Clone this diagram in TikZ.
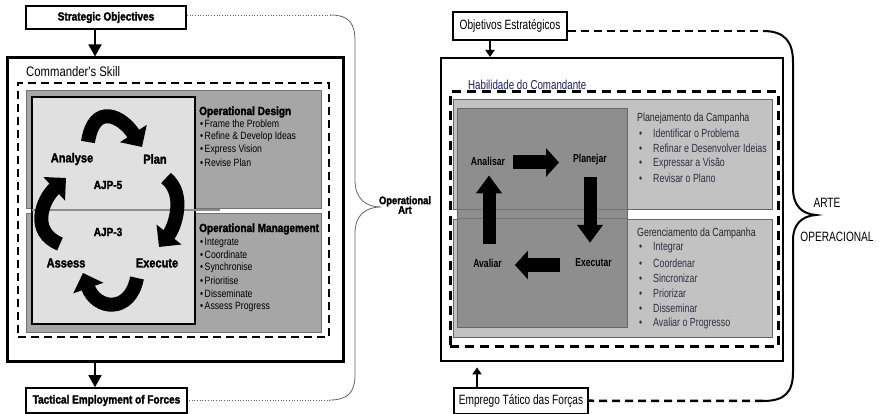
\documentclass[tikz,border=0pt]{standalone}
\usepackage{fontspec}
\setmainfont{Liberation Sans}
\newfontfamily\lnarrow{Liberation Sans}[FakeStretch=0.82]
\newfontfamily\lheavy{Liberation Sans}[FakeStretch=0.85,BoldFeatures={FakeBold=2}]
\newfontfamily\rnarrow{Liberation Sans}[FakeStretch=0.75]
\usetikzlibrary{arrows.meta}
\newcommand\setfs[1]{\fontsize{#1}{#1}\selectfont}
\definecolor{lpanelgray}{HTML}{A6A6A6}
\definecolor{llightgray}{HTML}{E0E0E0}
\definecolor{rpanelgray}{HTML}{C2C2C2}
\definecolor{rdarkgray}{HTML}{8E8E8E}
\definecolor{rtext}{HTML}{303042}
\definecolor{navy}{HTML}{1E1E6E}
\tikzset{
  plainbox/.style={draw, inner sep=0pt, fill=white},
  lhead/.style={font=\lheavy\bfseries\setfs{11.8pt}, inner sep=0pt},
  lcyclab/.style={font=\lheavy\bfseries\setfs{13pt}, inner sep=0pt},
  litem/.style={font=\lnarrow\setfs{10.6pt}, inner sep=0pt, anchor=west},
  rlab/.style={font=\rnarrow\setfs{13.5pt}, inner sep=0pt},
  rhead/.style={font=\rnarrow\setfs{11.8pt}, text=black!85, inner sep=0pt, anchor=west},
  ritem/.style={font=\rnarrow\setfs{11.8pt}, text=rtext, inner sep=0pt, anchor=west},
  rcyclab/.style={font=\rnarrow\bfseries\setfs{11.5pt}, inner sep=0pt},
  lpanel/.style={draw=black!55, line width=0.8pt, fill=lpanelgray, inner sep=0pt},
  rpanel/.style={draw=black!60, line width=0.8pt, fill=rpanelgray, inner sep=0pt},
  cycarrow/.style={line width=14pt, -{Triangle[length=16pt,width=31pt]}},
  blockarrow/.style={line width=14pt, -{Triangle[length=13pt,width=28pt]}},
  vblockarrow/.style={line width=13pt, -{Triangle[length=18pt,width=25pt]}},
  leftlink/.style={line width=1.6pt, -{Triangle[length=12pt,width=13pt]}},
  rightlink/.style={line width=2.4pt, -{Triangle[length=7pt,width=9pt]}},
  dotlink/.style={draw=black!60, line width=0.7pt, dotted},
  dashlink/.style={line width=2.5pt, dash pattern=on 8pt off 5pt},
}
\begin{document}
\begin{tikzpicture}[x=1pt,y=1pt]
\useasboundingbox (0,0) rectangle (879,414);
\fill[white] (0,0) rectangle (879,414);

% ---------------- English version (left) ----------------
\node[plainbox, line width=3pt, minimum width=336pt, minimum height=304pt] (lcmd) at (175,204) {};
\node[font=\lnarrow\setfs{13.8pt}, inner sep=0pt, anchor=west] (lskill) at (26,342) {Commander's Skill};
\node[draw, line width=2pt, dash pattern=on 8pt off 5pt, inner sep=0pt,
      minimum width=311pt, minimum height=254pt] (ldash) at (173.5,204) {};
\node[lpanel, minimum width=295pt, minimum height=118pt] (ldes) at (173.5,265) {};
\node[lpanel, minimum width=295pt, minimum height=119pt] (lman) at (173.5,141.5) {};
\node[draw, line width=2.4pt, fill=llightgray, inner sep=0pt,
      minimum width=163pt, minimum height=227pt] (lcyc) at (113.5,203.5) {};
\draw[black!45, line width=1.2pt] (32,204) -- (220,204);

% design / management lists
\node[lhead, anchor=west] (ldeshead) at (199,302) {Operational Design};
\foreach \t/\y in {Frame the Problem/290, Refine \& Develop Ideas/277,
                   Express Vision/264, Revise Plan/251}
  \node[litem] at (200,\y) {•\hspace{1.5pt}\t};
\node[lhead, anchor=west] (lmanhead) at (199,185) {Operational Management};
\foreach \t/\y in {Integrate/171, Coordinate/159, Synchronise/146,
                   Prioritise/133, Disseminate/120, Assess Progress/107}
  \node[litem] at (200,\y) {•\hspace{1.5pt}\t};

% planning cycle
\node[lcyclab] (lanalyse) at (72,255) {Analyse};
\node[lcyclab] (lplan) at (155,255) {Plan};
\node[lhead] (lajp5) at (108,229) {AJP-5};
\node[lhead] (lajp3) at (108,182) {AJP-3};
\node[lcyclab] (lassess) at (66,151) {Assess};
\node[lcyclab] (lexecute) at (157,151) {Execute};
% curved cycle arrows: Analyse->Plan, Plan->Execute, Execute->Assess, Assess->Analyse
\draw[cycarrow] (88,272) .. controls (94,312) and (122,298) .. (142,267);
\draw[cycarrow] (166,236) .. controls (186,220) and (175,187) .. (159,167);
\draw[cycarrow] (137,136) .. controls (130,100) and (96,104) .. (83,141);
\draw[cycarrow] (60,170) .. controls (30,182) and (42,214) .. (66,236);

% objectives and employment
\node[plainbox, line width=1.6pt, minimum width=160pt, minimum height=23pt, lhead] (lstrat) at (106,396.5) {Strategic Objectives};
\node[plainbox, line width=1.6pt, minimum width=161pt, minimum height=25pt, lhead] (ltact) at (106.5,13.5) {Tactical Employment of Forces};
\draw[leftlink] ([xshift=-11pt]lstrat.south) -- ([xshift=-11pt]lstrat.south |- lcmd.north);
\draw[leftlink] ([xshift=-80pt]lcmd.south) -- ([xshift=-80pt]lcmd.south |- ltact.north);

% operational art brace
\draw[dotlink] ([yshift=2.5pt]lstrat.east) -- (330,399);
\draw[black!60, line width=0.8pt] (330,399) .. controls (350,399) and (355,390) .. (355,372)
  -- (355,234) .. controls (355,215) and (366,207) .. (381,207)
  .. controls (366,207) and (355,199) .. (355,181)
  -- (355,39) .. controls (355,22) and (348,14) .. (330,14);
\draw[dotlink] (330,14) -- ([yshift=0.5pt]ltact.east);
\node[font=\lheavy\bfseries\setfs{11pt}, align=center, inner sep=0pt] (lart) at (405,209)
  {Operational\\[-1.5pt]Art};

% ---------------- Portuguese version (right) ----------------
\node[plainbox, line width=2pt, minimum width=342pt, minimum height=303pt] (rcmd) at (612,204.5) {};
\node[font=\rnarrow\setfs{13pt}, text=navy, inner sep=0pt, anchor=west] (rskill) at (468,329) {Habilidade do Comandante};
\node[draw, line width=3pt, dash pattern=on 9pt off 6pt, inner sep=0pt,
      minimum width=328pt, minimum height=255pt] (rdash) at (614,194.5) {};
\node[rpanel, minimum width=319pt, minimum height=110pt] (rdes) at (612.5,260) {};
\node[rpanel, minimum width=319pt, minimum height=118pt] (rman) at (612.5,136) {};
\node[draw=black!60, line width=0.8pt, fill=rdarkgray, inner sep=0pt,
      minimum width=170pt, minimum height=219pt] (rcyc) at (542,196.5) {};
\draw[black!55, line width=0.8pt] (rcyc.west |- rdes.south) -- (rcyc.east |- rdes.south);
\draw[black!55, line width=0.8pt] (rcyc.west |- rman.north) -- (rcyc.east |- rman.north);

% campaign lists
\node[rhead] (rdeshead) at (637,296) {Planejamento da Campanha};
\foreach \t/\y in {Identificar o Problema/281, Refinar e Desenvolver Ideias/266,
                   Expressar a Visão/251, Revisar o Plano/236}
  \node[ritem] at (638,\y) {\makebox[15pt][l]{\hspace{1pt}•}\t};
\node[rhead] (rmanhead) at (637,181) {Gerenciamento da Campanha};
\foreach \t/\y in {Integrar/166, Coordenar/151, Sincronizar/136,
                   Priorizar/121, Disseminar/106, Avaliar o Progresso/91}
  \node[ritem] at (638,\y) {\makebox[15pt][l]{\hspace{1pt}•}\t};

% campaign cycle
\node[rcyclab] (ranalisar) at (488,253) {Analisar};
\node[rcyclab] (rplanejar) at (590,254) {Planejar};
\node[rcyclab] (ravaliar) at (487.5,151) {Avaliar};
\node[rcyclab] (rexecutar) at (593.5,151) {Executar};
\draw[blockarrow] ([xshift=8pt,yshift=-1.5pt]ranalisar.east) -- ([xshift=-14pt,yshift=-2.5pt]rplanejar.west);
\draw[vblockarrow] ([yshift=-11pt]rplanejar.south) -- ([yshift=16pt]rplanejar.south |- rexecutar.north);
\draw[blockarrow] ([xshift=-15pt,yshift=-2pt]rexecutar.west) -- ([xshift=13pt,yshift=-2pt]ravaliar.east);
\draw[vblockarrow] ([xshift=1.5pt,yshift=15pt]ravaliar.north) -- ([xshift=1.5pt,yshift=-10pt]ravaliar.north |- ranalisar.south);

% objectives and employment
\node[plainbox, line width=1.2pt, minimum width=114pt, minimum height=28pt, rlab] (robj) at (510,388) {Objetivos Estratégicos};
\node[plainbox, line width=1.2pt, minimum width=134pt, minimum height=25.5pt, rlab] (remp) at (521,13.25) {Emprego Tático das Forças};
\draw[rightlink] ([xshift=-20pt]robj.south) -- ([xshift=-20pt]robj.south |- rcmd.north);
\draw[rightlink] ([xshift=-44pt]remp.north) -- ++(0,20);

% operational art brace
\draw[dashlink] ([yshift=-5pt]robj.east) -- (763,383);
\draw[line width=2pt] (763,383) .. controls (785,383) and (793,372) .. (793,352)
  -- (793,226) .. controls (793,208) and (802,200) .. (816,199)
  .. controls (802,198) and (793,190) .. (793,174)
  -- (793,42) .. controls (793,22) and (785,13) .. (763,13);
\draw[dashlink] (763,13) -- (remp.east);
\node[rlab] (rarte) at (827,211) {ARTE};
\node[rlab] (roper) at (837,177) {OPERACIONAL};
\end{tikzpicture}
\end{document}
